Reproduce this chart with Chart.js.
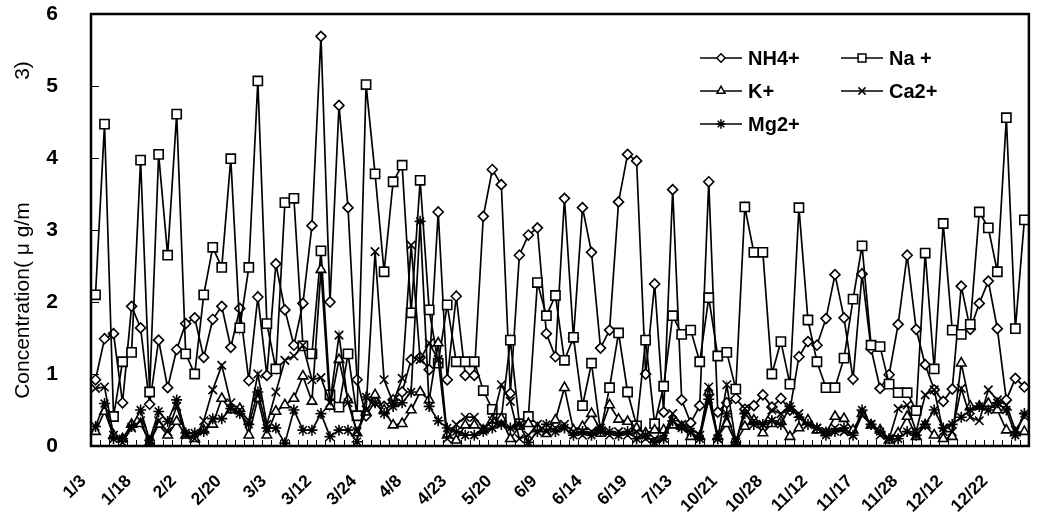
<!DOCTYPE html>
<html>
<head>
<meta charset="utf-8">
<script src="https://cdn.jsdelivr.net/npm/chart.js@4/dist/chart.umd.min.js"></script>
<style>
  html, body { margin: 0; padding: 0; background: #fff; }
</style>
</head>
<body>
<canvas id="ionChart" width="1037" height="516"></canvas>
<script>
// tick labels, one every 5 samples
const tickLabels = ['1/3', '1/18', '2/2', '2/20', '3/3', '3/12', '3/24', '4/8', '4/23', '5/20',
  '6/9', '6/14', '6/19', '7/13', '10/21', '10/28', '11/12', '11/17', '11/28', '12/12', '12/22'];

const nh4 = [0.92, 1.49, 1.56, 0.60, 1.94, 1.64, 0.58, 1.47, 0.81, 1.34,
  1.70, 1.78, 1.23, 1.76, 1.94, 1.37, 1.91, 0.91, 2.07, 0.98,
  2.53, 1.89, 1.40, 1.98, 3.06, 5.69, 2.00, 4.73, 3.31, 0.92,
  0.42, 0.62, 0.55, 0.64, 0.75, 1.20, 1.23, 1.06, 3.25, 0.92,
  2.08, 0.98, 0.98, 3.19, 3.84, 3.63, 0.73, 2.65, 2.93, 3.03,
  1.56, 1.24, 3.44, 1.50, 3.31, 2.69, 1.36, 1.61, 3.39, 4.05,
  3.96, 1.00, 2.25, 0.47, 3.56, 0.64, 0.32, 0.56, 3.67, 0.47,
  0.60, 0.66, 0.51, 0.56, 0.71, 0.54, 0.66, 0.50, 1.24, 1.45,
  1.40, 1.77, 2.38, 1.78, 0.93, 2.39, 1.35, 0.80, 0.99, 1.69,
  2.65, 1.62, 1.13, 0.78, 0.62, 0.79, 2.22, 1.62, 1.98, 2.29,
  1.63, 0.64, 0.94, 0.82];

const na = [2.10, 4.47, 0.41, 1.17, 1.30, 3.97, 0.75, 4.05, 2.65, 4.61,
  1.28, 1.00, 2.10, 2.76, 2.48, 3.99, 1.64, 2.48, 5.07, 1.70,
  1.07, 3.38, 3.44, 1.39, 1.28, 2.71, 0.71, 0.54, 1.28, 0.42,
  5.02, 3.78, 2.42, 3.67, 3.90, 1.85, 3.69, 1.89, 1.15, 1.96,
  1.17, 1.17, 1.17, 0.77, 0.51, 0.38, 1.47, 0.31, 0.41, 2.27,
  1.81, 2.09, 1.19, 1.51, 0.56, 1.15, 0.20, 0.81, 1.57, 0.75,
  0.28, 1.47, 0.31, 0.83, 1.81, 1.55, 1.61, 1.17, 2.06, 1.25,
  1.30, 0.79, 3.32, 2.69, 2.69, 1.00, 1.45, 0.86, 3.31, 1.75,
  1.17, 0.81, 0.81, 1.22, 2.04, 2.78, 1.40, 1.38, 0.86, 0.74,
  0.74, 0.49, 2.68, 1.07, 3.09, 1.61, 1.55, 1.69, 3.25, 3.03,
  2.42, 4.56, 1.63, 3.14];

const kPlus = [0.20, 0.48, 0.15, 0.10, 0.30, 0.31, 0.05, 0.30, 0.15, 0.34,
  0.15, 0.10, 0.22, 0.30, 0.66, 0.50, 0.52, 0.15, 0.66, 0.15,
  0.48, 0.57, 0.66, 0.97, 0.62, 2.45, 0.55, 1.20, 0.64, 0.18,
  0.47, 0.71, 0.50, 0.29, 0.31, 0.50, 0.75, 0.64, 1.43, 0.15,
  0.08, 0.29, 0.29, 0.22, 0.36, 0.38, 0.10, 0.27, 0.31, 0.25,
  0.17, 0.36, 0.81, 0.22, 0.27, 0.45, 0.22, 0.57, 0.37, 0.34,
  0.25, 0.18, 0.22, 0.22, 0.29, 0.27, 0.13, 0.13, 0.75, 0.13,
  0.31, 0.05, 0.27, 0.36, 0.18, 0.31, 0.34, 0.13, 0.25, 0.36,
  0.22, 0.18, 0.41, 0.38, 0.22, 0.45, 0.29, 0.22, 0.08, 0.18,
  0.41, 0.13, 0.29, 0.15, 0.10, 0.13, 1.15, 0.55, 0.55, 0.59,
  0.50, 0.22, 0.18, 0.20];

const ca = [0.80, 0.82, 0.15, 0.05, 0.25, 0.35, 0.05, 0.35, 0.20, 0.55,
  0.15, 0.10, 0.35, 0.78, 1.12, 0.60, 0.50, 0.35, 1.00, 0.30,
  0.75, 1.19, 1.25, 1.40, 0.92, 0.95, 0.60, 1.54, 0.60, 0.20,
  0.50, 2.70, 0.92, 0.60, 0.94, 2.79, 1.20, 1.43, 1.20, 0.10,
  0.30, 0.40, 0.40, 0.25, 0.35, 0.85, 0.62, 0.10, 0.15, 0.30,
  0.20, 0.25, 0.30, 0.20, 0.15, 0.20, 0.25, 0.15, 0.20, 0.15,
  0.20, 0.10, 0.10, 0.15, 0.45, 0.30, 0.25, 0.15, 0.82, 0.10,
  0.85, 0.05, 0.52, 0.35, 0.30, 0.50, 0.45, 0.50, 0.45, 0.30,
  0.25, 0.20, 0.25, 0.20, 0.15, 0.43, 0.30, 0.15, 0.10, 0.52,
  0.57, 0.20, 0.71, 0.78, 0.20, 0.20, 0.80, 0.40, 0.35, 0.78,
  0.64, 0.57, 0.22, 0.41];

const mg = [0.27, 0.59, 0.10, 0.10, 0.27, 0.50, 0.08, 0.48, 0.34, 0.64,
  0.18, 0.18, 0.20, 0.38, 0.38, 0.52, 0.45, 0.30, 0.75, 0.25,
  0.25, 0.04, 0.50, 0.22, 0.22, 0.45, 0.13, 0.22, 0.22, 0.06,
  0.68, 0.60, 0.45, 0.55, 0.60, 0.75, 3.12, 0.55, 0.35, 0.25,
  0.20, 0.15, 0.15, 0.20, 0.25, 0.30, 0.25, 0.30, 0.05, 0.20,
  0.30, 0.20, 0.25, 0.15, 0.20, 0.15, 0.20, 0.20, 0.15, 0.20,
  0.10, 0.15, 0.05, 0.10, 0.35, 0.25, 0.20, 0.10, 0.65, 0.10,
  0.45, 0.05, 0.45, 0.30, 0.30, 0.35, 0.30, 0.55, 0.40, 0.30,
  0.25, 0.15, 0.20, 0.25, 0.15, 0.50, 0.30, 0.20, 0.10, 0.10,
  0.20, 0.15, 0.30, 0.50, 0.25, 0.30, 0.40, 0.50, 0.55, 0.50,
  0.60, 0.50, 0.15, 0.45];

const categories = nh4.map((v, i) => (i % 5 === 0 ? tickLabels[i / 5] : ''));

const FONT = '"Liberation Sans", Arial, sans-serif';

function series(label, data, pointStyle, radius, order) {
  return {
    label, data, pointStyle, order,
    borderColor: '#000',
    borderWidth: 1.7,
    pointRadius: radius,
    pointHoverRadius: radius,
    pointBackgroundColor: '#fff',
    pointBorderColor: '#000',
    pointBorderWidth: 1.6,
    tension: 0,
    fill: false
  };
}

const datasets = [
  series('NH4+', nh4, 'rectRot', 5, 5),
  series('Na +', na, 'rect', 6.5, 4),
  series('K+', kPlus, 'triangle', 5.5, 3),
  series('Ca2+', ca, 'crossRot', 6, 2),
  series('Mg2+', mg, 'star', 5.5, 1)
];

// frame + short inward tick marks like the original
const frameTicks = {
  id: 'frameTicks',
  afterDraw(chart) {
    const { ctx, chartArea: a, scales: { x, y } } = chart;
    ctx.save();
    ctx.strokeStyle = '#000';
    ctx.lineWidth = 1;
    const step = x.getPixelForValue(1) - x.getPixelForValue(0);
    ctx.beginPath();
    for (let i = 0; i <= categories.length; i++) {
      const px = Math.round(x.getPixelForValue(i) - step / 2) + 0.5;
      ctx.moveTo(px, a.bottom);
      ctx.lineTo(px, a.bottom - 6);
    }
    for (let v = 1; v < 6; v++) {
      const py = Math.round(y.getPixelForValue(v)) + 0.5;
      ctx.moveTo(a.left, py);
      ctx.lineTo(a.left + 8, py);
    }
    ctx.stroke();
    ctx.lineWidth = 2.5;
    ctx.strokeRect(a.left, a.top, a.right - a.left, a.bottom - a.top);
    ctx.restore();
  }
};

// two-column legend inside the plot
const innerLegend = {
  id: 'innerLegend',
  afterDraw(chart) {
    const { ctx, chartArea: a } = chart;
    const cols = [a.left + 609, a.left + 750];
    const rows = [a.top + 44, a.top + 77, a.top + 110];
    ctx.save();
    ctx.font = 'bold 20px ' + FONT;
    ctx.textBaseline = 'middle';
    chart.data.datasets.forEach((ds, i) => {
      const x0 = cols[i % 2];
      const yy = rows[Math.floor(i / 2)];
      ctx.strokeStyle = '#000';
      ctx.lineWidth = 1.5;
      ctx.beginPath();
      ctx.moveTo(x0, yy);
      ctx.lineTo(x0 + 42, yy);
      ctx.stroke();
      ctx.fillStyle = '#fff';
      Chart.helpers.drawPoint(ctx, {
        pointStyle: ds.pointStyle,
        radius: ds.pointRadius * 0.85,
        borderWidth: 1.5,
        rotation: 0
      }, x0 + 21, yy);
      ctx.fillStyle = '#000';
      ctx.fillText(ds.label, x0 + 48, yy + 1);
    });
    ctx.restore();
  }
};

new Chart(document.getElementById('ionChart'), {
  type: 'line',
  data: { labels: categories, datasets },
  plugins: [frameTicks, innerLegend],
  options: {
    responsive: false,
    animation: false,
    devicePixelRatio: 1,
    layout: { padding: { top: 14, right: 1, left: 0, bottom: 0 } },
    plugins: { legend: { display: false }, tooltip: { enabled: false } },
    scales: {
      x: {
        offset: true,
        afterFit: (s) => {
          s.height = 70;
          s.paddingLeft = 0; s.paddingRight = 0; s.paddingTop = 0; s.paddingBottom = 0;
        },
        grid: { display: false, drawTicks: false },
        border: { display: false },
        ticks: {
          autoSkip: false,
          maxRotation: 45,
          minRotation: 45,
          padding: 25,
          labelOffset: -12,
          color: '#000',
          font: { family: FONT, size: 17.5, weight: 'bold' }
        }
      },
      y: {
        min: 0,
        max: 6,
        afterFit: (s) => {
          s.width = 91;
          s.paddingLeft = 0; s.paddingRight = 0; s.paddingTop = 0; s.paddingBottom = 0;
        },
        grid: { display: false, drawTicks: false },
        border: { display: false },
        ticks: {
          stepSize: 1,
          padding: 33,
          color: '#000',
          font: { family: FONT, size: 21, weight: 'bold' }
        },
        title: {
          display: true,
          text: 'Concentration( μ g/m                     3)',
          color: '#000',
          padding: { top: 11, bottom: 0 },
          font: { family: FONT, size: 21 }
        }
      }
    }
  }
});
</script>
</body>
</html>
